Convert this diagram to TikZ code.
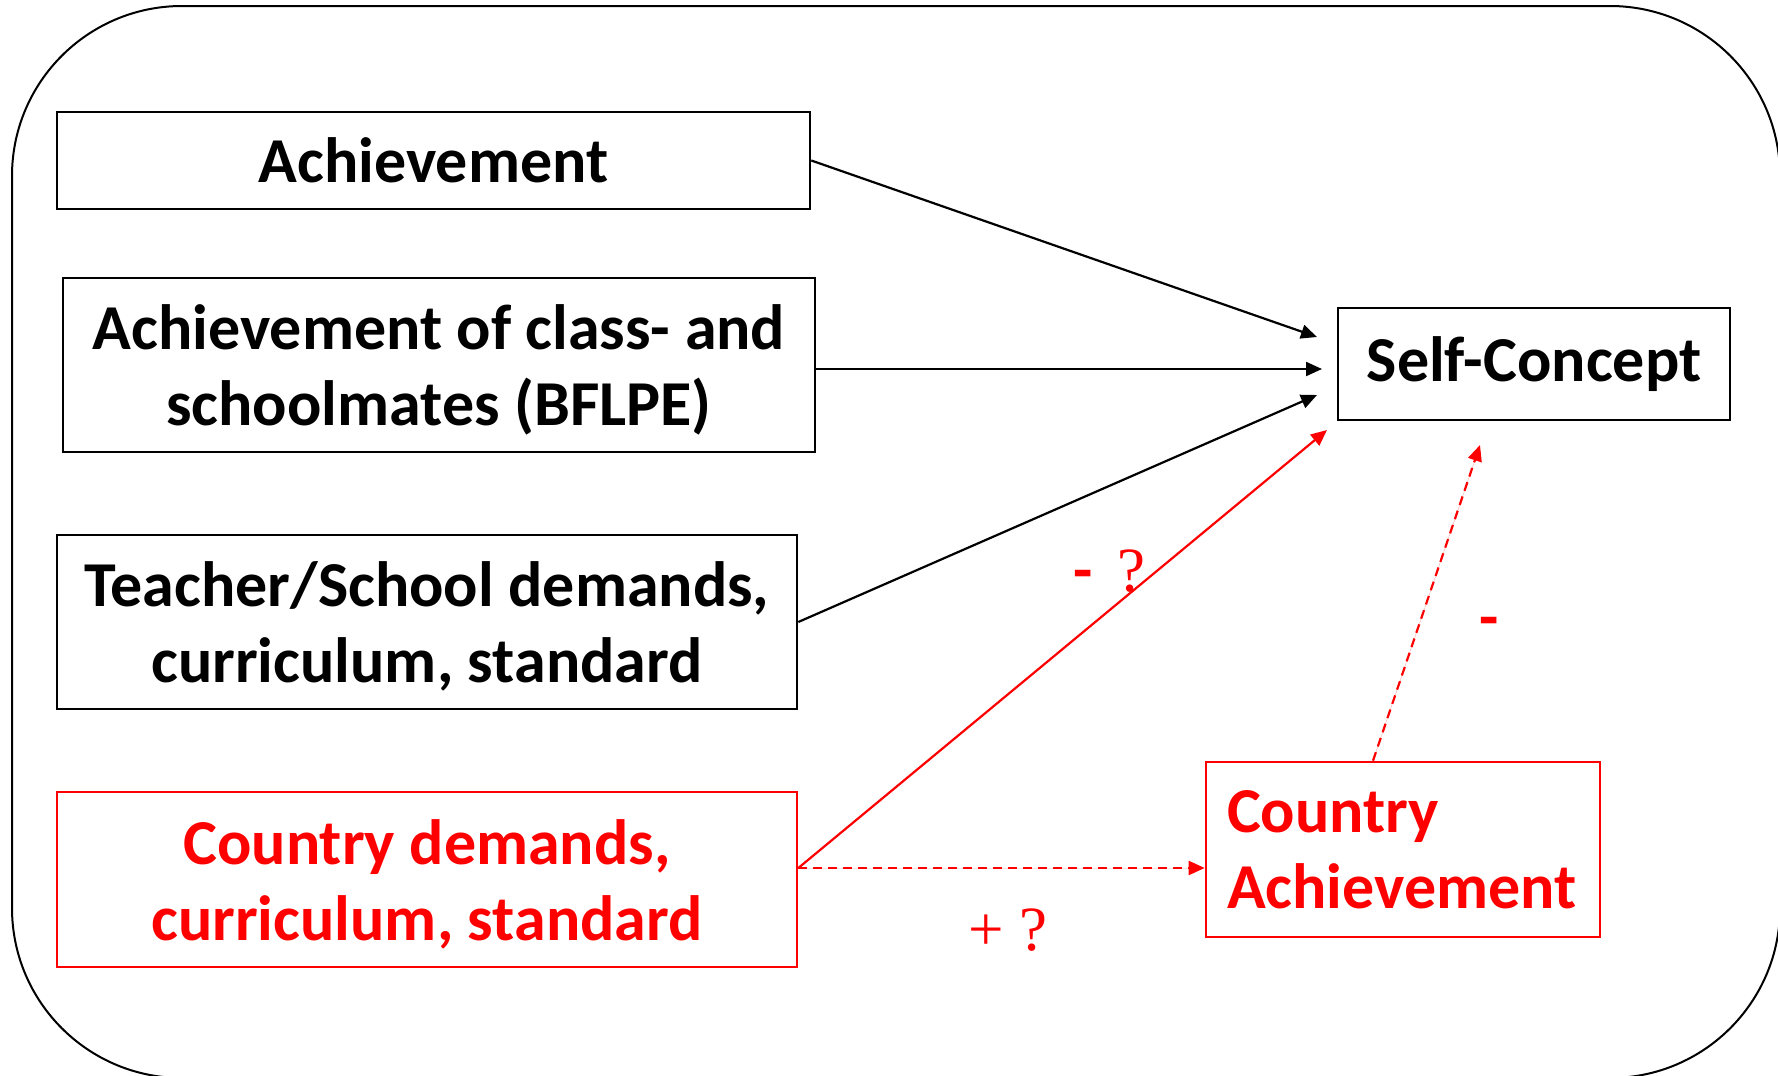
\documentclass[tikz,border=0pt]{standalone}
\usepackage{fontspec}
\setmainfont{Carlito}
\newfontfamily\serifq{Liberation Serif}
\usetikzlibrary{arrows.meta}
\definecolor{pptred}{RGB}{255,0,0}
\begin{document}
\begin{tikzpicture}[x=0.5pt,y=-0.5pt,
  txt/.style={font=\fontsize{32}{38}\selectfont\bfseries},
  blackbox/.style={draw=black,line width=1.3pt,align=center,inner sep=0pt,txt},
  redbox/.style={draw=pptred,text=pptred,line width=1.3pt,inner sep=0pt,txt},
  twoline/.style={label={[txt,align=center,inner sep=0pt,yshift=-2.2pt]center:#1}},
  redtwoline/.style={label={[txt,text=pptred,align=center,inner sep=0pt,yshift=-2.2pt]center:#1}},
  link/.style={line width=1.1pt,-{Triangle[length=8pt,width=7pt]}},
  redlink/.style={link,draw=pptred,fill=pptred},
  reddash/.style={redlink,dash pattern=on 4.5pt off 3pt},
  sign/.style={text=pptred,inner sep=0pt,font=\fontsize{31.5}{38}\selectfont}
]
\useasboundingbox (0,0) rectangle (1778,1076);
\begin{scope}
\clip (0,0) rectangle (1778,1076);
\draw[line width=1pt,rounded corners=85pt] (12,6) rectangle (1780,1078);
\end{scope}

% predictor boxes
\node[blackbox,minimum width=376.5pt,minimum height=48.5pt] (ach) at (433.5,160.5) {Achievement};
\node[blackbox,minimum width=376pt,minimum height=87pt,
      twoline={Achievement of class- and\\schoolmates (BFLPE)}] (cls) at (439,365) {};
\node[blackbox,minimum width=370pt,minimum height=87pt,
      twoline={Teacher/School demands,\\curriculum, standard}] (tch) at (427,622) {};
\node[redbox,minimum width=370pt,minimum height=87.5pt,
      redtwoline={Country demands,\\curriculum, standard}] (cdm) at (427,879.5) {};

% outcome boxes
\node[blackbox,minimum width=196pt,minimum height=56pt] (sc) at (1534,364) {Self-Concept};
\node[redbox,minimum width=197pt,minimum height=87.5pt,inner xsep=10.5pt,text width=176pt,align=left] (ca) at (1403,849.5) {Country\\Achievement};

% arrow end points next to the self-concept box
\coordinate (e1) at (1317,337);
\coordinate (e2) at (1322,369);
\coordinate (e3) at (1317,395);
\coordinate (e4) at (1327,430);
\coordinate (e5) at (1480,445);

\draw[link] (ach.east) -- (e1);
\draw[link] ([yshift=-2pt]cls.east) -- (e2);
\draw[link] (tch.east) -- (e3);
\draw[redlink] ([yshift=5.75pt]cdm.east) -- (e4);
\draw[reddash] ([yshift=5.75pt]cdm.east) -- ([yshift=-9.25pt]ca.west);
\draw[reddash] ([xshift=-15pt]ca.north) -- (e5);

% effect signs
\node[sign,anchor=base west] (s1) at (1073,591) {{\bfseries -}\,\ {\serifq ?}};
\node[sign,anchor=base west] (s2) at (968,950) {{\serifq + ?}};
\node[sign,anchor=base] (s3) at (1489,638) {\bfseries -};
\end{tikzpicture}
\end{document}
